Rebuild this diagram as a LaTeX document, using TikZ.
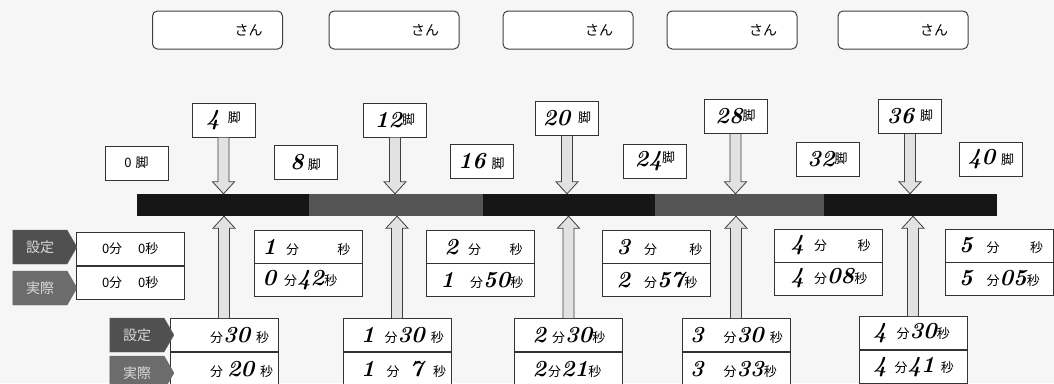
\documentclass[tikz,border=0pt]{standalone}
\usepackage{fontspec}
\newfontfamily\jpf{Noto Sans CJK JP}
\newfontfamily\handf{Latin Modern Roman}
\usetikzlibrary{shapes.symbols,calc}
\definecolor{paper}{HTML}{F6F6F6}
\definecolor{barblack}{HTML}{161616}
\definecolor{bargray}{HTML}{555555}
\definecolor{arrowfill}{HTML}{E2E2E2}
\definecolor{tagdark}{HTML}{505050}
\definecolor{taglight}{HTML}{6C6C6C}
\newcommand\hwn[1]{{\handf\bfseries\itshape\fontsize{23}{23}\selectfont #1}}
\begin{document}
\begin{tikzpicture}[x=1pt,y=-1pt,
  font=\jpf\fontsize{13}{15}\selectfont,
  namebox/.style={draw=black!75,line width=1pt,rounded corners=5pt,fill=white,
    minimum width=130pt,minimum height=38pt,inner sep=0pt,
    font=\jpf\fontsize{14}{16}\selectfont},
  numbox/.style={draw=black!80,line width=1pt,fill=white,
    minimum width=63pt,minimum height=34pt,inner sep=0pt},
  rowbox/.style={draw=black!80,line width=1pt,fill=white,
    minimum width=108pt,minimum height=33pt,inner sep=0pt},
  tagbox/.style={signal,signal to=east,signal pointer angle=120,draw=black!60,
    text=white!85!black,minimum width=64pt,minimum height=34pt,inner sep=0pt,
    font=\jpf\fontsize{14}{15}\selectfont},
  seg/.style={minimum height=22pt,inner sep=0pt,draw=none},
  fat/.style={fill=arrowfill,draw=black!75,line width=0.8pt,line join=miter}]
\useasboundingbox (0,0) rectangle (1054,383);
\clip (0,0) rectangle (1054,383);
\fill[paper] (0,0) rectangle (1054,383);

% name boxes
\foreach \i/\x in {1/217.5,2/394,3/568,4/732,5/903}
  \node[namebox] (n\i) at (\x,30) {\hbox to 130pt{\hfill さん\hspace{20pt}}};

% bar segments
\node[seg,fill=barblack,minimum width=172pt] (s1) at (223,205) {};
\node[seg,fill=bargray,minimum width=174pt] (s2) at (396,205) {};
\node[seg,fill=barblack,minimum width=172pt] (s3) at (569,205) {};
\node[seg,fill=bargray,minimum width=169pt] (s4) at (739.5,205) {};
\node[seg,fill=barblack,minimum width=173pt] (s5) at (910.5,205) {};

% top number boxes
\node[numbox] (u1) at (223.5,120) {\hwn{4}\hspace{8pt}\raisebox{3pt}{脚}};
\node[numbox] (u2) at (395,120) {\hwn{12}\raisebox{3pt}{脚}};
\node[numbox] (u3) at (567,118.5) {\hwn{20}\hspace{8pt}\raisebox{3pt}{脚}};
\node[numbox] (u4) at (735.5,116.5) {\hwn{28}\raisebox{3pt}{脚}};
\node[numbox] (u5) at (910,116.5) {\hwn{36}\hspace{6pt}\raisebox{3pt}{脚}};

% lower number boxes
\node[numbox] (l0) at (136.5,163) {0\hspace{4pt}脚};
\node[numbox] (l1) at (305.5,162) {\hwn{8}\hspace{4pt}脚};
\node[numbox] (l2) at (481.5,161.5) {\hwn{16}\hspace{6pt}脚};
\node[numbox] (l3) at (655,161.5) {\hwn{24}\raisebox{4pt}{脚}};
\node[numbox] (l4) at (827.5,159.5) {\hwn{32}\raisebox{3pt}{脚}};
\node[numbox] (l5) at (991,159.5) {\hwn{40}\hspace{6pt}脚};

% bottom boxes
\node[rowbox] (b1a) at (224,335) {\hbox to 108pt{\hspace{40pt}分\hwn{30}\hspace{6pt}秒\hfill}};
\node[rowbox] (b1b) at (224,369) {\hbox to 108pt{\hspace{40pt}分\hspace{4pt}\hwn{20}\hspace{6pt}秒\hfill}};
\node[rowbox] (b2a) at (397,335) {\hbox to 108pt{\hspace{18pt}\hwn{1}\hspace{10pt}分\hwn{30}\hspace{6pt}秒\hfill}};
\node[rowbox] (b2b) at (397,369) {\hbox to 108pt{\hspace{18pt}\hwn{1}\hspace{12pt}分\hspace{10pt}\hwn{7}\hspace{10pt}秒\hfill}};
\node[rowbox] (b3a) at (568.5,335) {\hbox to 108pt{\hspace{18pt}\hwn{2}\hspace{6pt}分\hwn{30}秒\hfill}};
\node[rowbox] (b3b) at (568.5,369) {\hbox to 108pt{\hspace{18pt}\hwn{2}\hspace{2pt}分\hwn{21}秒\hfill}};
\node[rowbox] (b4a) at (736,335) {\hbox to 108pt{\hspace{8pt}\hwn{3}\hspace{20pt}分\hwn{30}\hspace{6pt}秒\hfill}};
\node[rowbox] (b4b) at (736,369) {\hbox to 108pt{\hspace{8pt}\hwn{3}\hspace{20pt}分\hwn{33}秒\hfill}};
\node[rowbox] (b5a) at (913,333) {\hbox to 108pt{\hspace{14pt}\hwn{4}\hspace{10pt}分\hwn{30}秒\hfill}};
\node[rowbox] (b5b) at (913,367) {\hbox to 108pt{\hspace{14pt}\hwn{4}\hspace{8pt}分\hwn{41}\hspace{6pt}秒\hfill}};

% arrows: down from top boxes, up from bottom boxes
\foreach \t/\s/\b in {u1/s1/b1a,u2/s2/b2a,u3/s3/b3a,u4/s4/b4a,u5/s5/b5a}{
  \draw[fat] let \p1=(\t.south), \p2=(\t.south |- \s.north) in
    (\x1-5.5pt,\y1) -- (\x1-5.5pt,\y2+12pt) -- (\x1-11pt,\y2+12pt) -- (\x2,\y2)
    -- (\x1+11pt,\y2+12pt) -- (\x1+5.5pt,\y2+12pt) -- (\x1+5.5pt,\y1);
  \draw[fat] let \p1=(\b.north), \p2=(\b.north |- \s.south) in
    (\x1-5.5pt,\y1) -- (\x1-5.5pt,\y2-12pt) -- (\x1-11pt,\y2-12pt) -- (\x2,\y2)
    -- (\x1+11pt,\y2-12pt) -- (\x1+5.5pt,\y2-12pt) -- (\x1+5.5pt,\y1);
}

% middle time boxes
\node[rowbox] (m0a) at (130,249) {\hbox to 108pt{\hspace{26pt}0分\hspace{16pt}0秒\hfill}};
\node[rowbox] (m0b) at (130,283) {\hbox to 108pt{\hspace{26pt}0分\hspace{16pt}0秒\hfill}};
\node[rowbox] (m1a) at (308.5,247) {\hbox to 108pt{\hspace{8pt}\hwn{1}\hspace{10pt}分\hfill 秒\hspace{12pt}}};
\node[rowbox] (m1b) at (308.5,280) {\hbox to 108pt{\hspace{8pt}\hwn{0}\hspace{8pt}分\hwn{42}秒\hfill}};
\node[rowbox] (m2a) at (480.5,247) {\hbox to 108pt{\hspace{18pt}\hwn{2}\hspace{10pt}分\hfill 秒\hspace{12pt}}};
\node[rowbox] (m2b) at (480.5,280) {\hbox to 108pt{\hspace{14pt}\hwn{1}\hspace{16pt}分\hwn{50}秒\hfill}};
\node[rowbox] (m3a) at (656.5,247) {\hbox to 108pt{\hspace{14pt}\hwn{3}\hspace{14pt}分\hfill 秒\hspace{8pt}}};
\node[rowbox] (m3b) at (656.5,280) {\hbox to 108pt{\hspace{14pt}\hwn{2}\hspace{14pt}分\hwn{57}秒\hfill}};
\node[rowbox] (m4a) at (828.5,245.5) {\hbox to 108pt{\hspace{16pt}\hwn{4}\hspace{10pt}分\hfill 秒\hspace{12pt}}};
\node[rowbox] (m4b) at (828.5,278.5) {\hbox to 108pt{\hspace{16pt}\hwn{4}\hspace{10pt}分\hwn{08}秒\hfill}};
\node[rowbox] (m5a) at (999,245.5) {\hbox to 108pt{\hspace{14pt}\hwn{5}\hspace{14pt}分\hfill 秒\hspace{10pt}}};
\node[rowbox] (m5b) at (999,278.5) {\hbox to 108pt{\hspace{14pt}\hwn{5}\hspace{14pt}分\hwn{05}秒\hfill}};

% tags
\node[tagbox,fill=tagdark] (t1) at (40,247) {設定};
\node[tagbox,fill=taglight] (t2) at (40,288) {実際};
\node[tagbox,fill=tagdark] (t3) at (137,335) {設定};
\node[tagbox,fill=taglight] (t4) at (137,373) {実際};
\end{tikzpicture}
\end{document}
